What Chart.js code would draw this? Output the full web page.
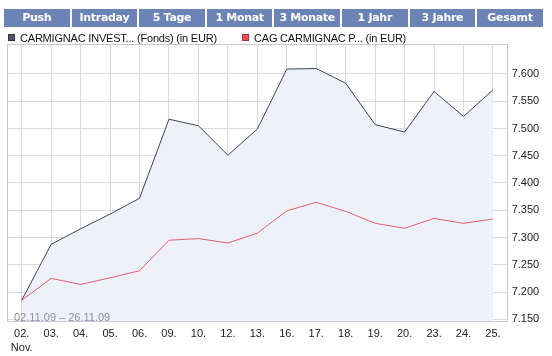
<!DOCTYPE html>
<html>
<head>
<meta charset="utf-8">
<script src="https://cdn.jsdelivr.net/npm/chart.js@4/dist/chart.umd.min.js"></script>
<style>
  html, body { margin:0; padding:0; background:#ffffff; }
  #wrap { position:relative; width:552px; height:356px; overflow:hidden; }
  #c { position:absolute; left:0; top:0; }
  .btn { position:absolute; top:9px; height:18px; background:#6c83b6; color:#ffffff;
         font-family:"DejaVu Sans", Verdana, sans-serif; font-weight:bold; font-size:11px;
         letter-spacing:-0.3px; line-height:18px; text-align:center; }
  .leg { position:absolute; top:31px; font-family:"Liberation Sans", Arial, sans-serif; font-size:11px;
         color:#111; line-height:15px; white-space:nowrap; letter-spacing:-0.2px; }
  .sq { position:absolute; top:34px; width:5px; height:5px; border:1px solid; }
  #range { position:absolute; left:14px; top:310px; font-family:"Liberation Sans", Arial, sans-serif;
           font-size:11px; color:#9090a0; line-height:14px; white-space:nowrap; }
</style>
</head>
<body>
<div id="wrap">
  <canvas id="c" width="552" height="356"></canvas>
  <div id="buttons"></div>
  <div class="sq" style="left:8px; background:#50546a; border-color:#30334a;"></div>
  <div class="leg" style="left:20px;">CARMIGNAC INVEST... (Fonds) (in EUR)</div>
  <div class="sq" style="left:242px; background:#f0505c; border-color:#b83040;"></div>
  <div class="leg" style="left:254px;">CAG CARMIGNAC P... (in EUR)</div>
  <div id="range">02.11.09 – 26.11.09</div>
</div>
<script>
const buttonLabels = ['Push','Intraday','5 Tage','1 Monat','3 Monate','1 Jahr','3 Jahre','Gesamt'];
const dates = ['02.','03.','04.','05.','06.','09.','10.','12.','13.','16.','17.','18.','19.','20.','23.','24.','25.'];
const monthLabel = 'Nov.';
const fundValues  = [7.185, 7.2875, 7.316, 7.343, 7.372, 7.517, 7.505, 7.451, 7.499, 7.609, 7.610, 7.583, 7.507, 7.4935, 7.568, 7.522, 7.571];
const shareValues = [7.185, 7.225, 7.214, 7.226, 7.239, 7.295, 7.298, 7.290, 7.308, 7.349, 7.3645, 7.348, 7.326, 7.317, 7.335, 7.326, 7.334];
const yTicks = [7.15, 7.20, 7.25, 7.30, 7.35, 7.40, 7.45, 7.50, 7.55, 7.60];

// buttons
const bc = document.getElementById('buttons');
buttonLabels.forEach((t, i) => {
  const d = document.createElement('div');
  d.className = 'btn';
  d.style.left = (4 + i * 67.6) + 'px';
  d.style.width = '65.6px';
  d.textContent = t;
  bc.appendChild(d);
});

const labels = dates.map((d, i) => i === 0 ? [d, monthLabel] : d);
const gridColor = '#d9d9e1';
const tickFont = { family: '"Liberation Sans", Arial, sans-serif', size: 11, lineHeight: 1.27 };

const borderPlugin = {
  id: 'plotBorder',
  beforeDatasetsDraw(chart) {
    const a = chart.chartArea, ctx = chart.ctx;
    ctx.save();
    ctx.strokeStyle = '#c9c9d2';
    ctx.lineWidth = 1;
    ctx.strokeRect(Math.round(a.left) + 0.5, Math.round(a.top) + 0.5,
                   Math.round(a.right - a.left) - 1, Math.round(a.bottom - a.top) - 1);
    ctx.restore();
  }
};

new Chart(document.getElementById('c'), {
  type: 'line',
  data: {
    labels: labels,
    datasets: [
      { label: 'CARMIGNAC INVEST... (Fonds) (in EUR)', data: fundValues,
        borderColor: '#3f4459', borderWidth: 1, backgroundColor: '#eef1f9',
        fill: 'start', pointRadius: 0, tension: 0 },
      { label: 'CAG CARMIGNAC P... (in EUR)', data: shareValues,
        borderColor: '#e0606e', borderWidth: 1, fill: false, pointRadius: 0, tension: 0 }
    ]
  },
  options: {
    responsive: false,
    animation: false,
    devicePixelRatio: 1,
    layout: { padding: { left: 7, top: 44, right: 0, bottom: 0 } },
    plugins: {
      legend: { display: false },
      tooltip: { enabled: false },
      filler: { drawTime: 'beforeDatasetsDraw' }
    },
    scales: {
      x: {
        type: 'category',
        offset: true,
        grid: { offset: false, color: gridColor, drawTicks: false, lineWidth: 1 },
        border: { display: false },
        ticks: { color: '#222', font: tickFont, padding: 5, maxRotation: 0, autoSkip: false },
        afterFit: s => { s.height = 34; }
      },
      y: {
        position: 'right',
        min: 7.145,
        max: 7.655,
        afterBuildTicks: s => { s.ticks = yTicks.map(v => ({ value: v })); },
        grid: { color: gridColor, drawTicks: false, lineWidth: 1 },
        border: { display: false },
        ticks: { color: '#222', font: tickFont, padding: 4, callback: v => Number(v).toFixed(3) },
        afterFit: s => { s.width = 44.3; }
      }
    }
  },
  plugins: [borderPlugin]
});
</script>
</body>
</html>
